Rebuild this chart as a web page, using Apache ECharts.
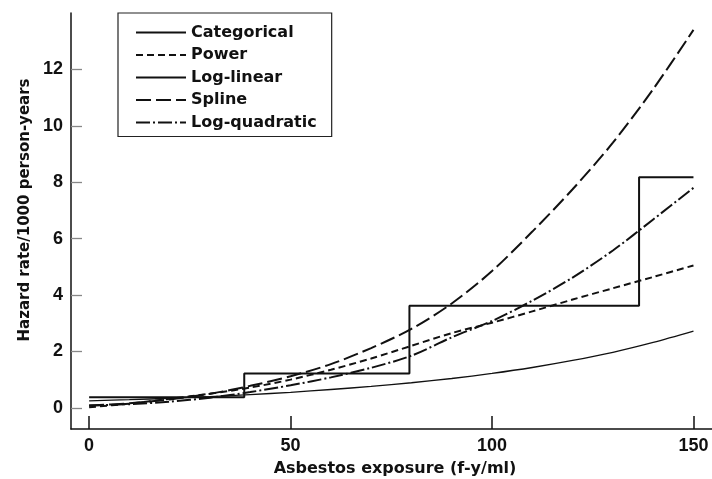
<!DOCTYPE html>
<html>
<head>
<meta charset="utf-8">
<script src="https://cdn.jsdelivr.net/npm/echarts@6/dist/echarts.min.js"></script>
<style>
html,body{margin:0;padding:0;background:#fff;}
#chart{width:712px;height:479px;}
</style>
</head>
<body>
<div id="chart"></div>
<script>
// ---- data ----
var exposure = [0, 10, 20, 30, 40, 50, 60, 70, 80, 90, 100, 110, 120, 130, 140, 150];
var powerRate = [0.02, 0.15, 0.32, 0.5, 0.72, 1.0, 1.35, 1.75, 2.2, 2.65, 3.02, 3.42, 3.84, 4.24, 4.64, 5.05];
var logLinearRate = [0.25, 0.29, 0.34, 0.4, 0.47, 0.55, 0.65, 0.76, 0.89, 1.04, 1.22, 1.43, 1.68, 1.97, 2.32, 2.72];
var splineRate = [0.08, 0.16, 0.3, 0.5, 0.78, 1.12, 1.55, 2.12, 2.8, 3.7, 4.85, 6.25, 7.75, 9.4, 11.3, 13.4];
var logQuadRate = [0.08, 0.13, 0.22, 0.36, 0.56, 0.8, 1.08, 1.42, 1.85, 2.5, 3.08, 3.8, 4.62, 5.58, 6.68, 7.8];
// categorical: step boundaries and rate within each interval
var categoricalCuts = [0, 38.5, 79.5, 136.5, 150];
var categoricalRate = [0.38, 1.22, 3.62, 8.18];
var seriesNames = ['Categorical', 'Power', 'Log-linear', 'Spline', 'Log-quadratic'];
var xTicks = [0, 50, 100, 150];
var yTicks = [0, 2, 4, 6, 8, 10, 12];
var xTitle = 'Asbestos exposure (f-y/ml)';
var yTitle = 'Hazard rate/1000 person-years';

function zip(xs, ys) { return xs.map(function (x, i) { return [x, ys[i]]; }); }
var catData = categoricalCuts.map(function (c, i) {
  return [c, categoricalRate[Math.min(i, categoricalRate.length - 1)]];
});

var ink = '#111';
var titleFont = 'DejaVu Sans';
var tickFont = 'Liberation Sans';

function lineSeries(name, data, type, width, smooth) {
  return {
    name: name, type: 'line', data: data, symbol: 'none', showSymbol: false, smooth: smooth,
    lineStyle: { color: ink, width: width, type: type },
    itemStyle: { color: ink },
    emphasis: { disabled: true }, silent: true
  };
}

var chart = echarts.init(document.getElementById('chart'), null, { renderer: 'canvas' });
chart.setOption({
  animation: false,
  backgroundColor: '#fff',
  grid: { left: 71, top: 13, width: 641, height: 416, containLabel: false, outerBoundsMode: 'none' },
  xAxis: {
    type: 'value', min: -4.5, max: 154.6,
    axisLine: { show: true, onZero: false, lineStyle: { color: ink, width: 1.5 } },
    axisTick: { show: true, inside: true, length: 13, customValues: xTicks, lineStyle: { color: ink, width: 1.5 } },
    axisLabel: { customValues: xTicks, color: ink, fontSize: 18, fontWeight: 'bold', fontFamily: tickFont, margin: 8 },
    splitLine: { show: false }
  },
  yAxis: {
    type: 'value', min: -0.75, max: 14,
    axisLine: { show: true, onZero: false, lineStyle: { color: ink, width: 1.5 } },
    axisTick: { show: true, inside: true, length: 11, customValues: yTicks, lineStyle: { color: '#888', width: 1.3 } },
    axisLabel: { customValues: yTicks, color: ink, fontSize: 18, fontWeight: 'bold', fontFamily: tickFont, margin: 8 },
    splitLine: { show: false }
  },
  legend: {
    data: seriesNames,
    orient: 'vertical', left: 118, top: 13,
    padding: [11.5, 15, 6, 17],
    itemWidth: 50, itemHeight: 14, itemGap: 6.5,
    borderColor: '#222', borderWidth: 1.2,
    backgroundColor: '#fff',
    selectedMode: false,
    itemStyle: { opacity: 0, borderWidth: 0 },
    lineStyle: { opacity: 1 },
    textStyle: { color: ink, fontSize: 16, fontWeight: 'bold', fontFamily: titleFont }
  },
  graphic: [
    { type: 'text', x: 395, y: 469, silent: true,
      style: { text: xTitle, fill: ink, font: 'bold 16px "DejaVu Sans"', textAlign: 'center', textVerticalAlign: 'middle' } },
    { type: 'text', x: 25, y: 210, rotation: Math.PI / 2, silent: true,
      style: { text: yTitle, fill: ink, font: 'bold 15px "DejaVu Sans"', textAlign: 'center', textVerticalAlign: 'middle' } }
  ],
  series: [
    Object.assign(lineSeries('Categorical', catData, 'solid', 2, false), { step: 'end' }),
    lineSeries('Power', zip(exposure, powerRate), [7, 4], 2, 0.3),
    lineSeries('Log-linear', zip(exposure, logLinearRate), 'solid', 1.3, 0.3),
    lineSeries('Spline', zip(exposure, splineRate), [15, 5], 2, 0.3),
    lineSeries('Log-quadratic', zip(exposure, logQuadRate), [14, 3, 2, 3], 2, 0.3)
  ]
});
</script>
</body>
</html>
